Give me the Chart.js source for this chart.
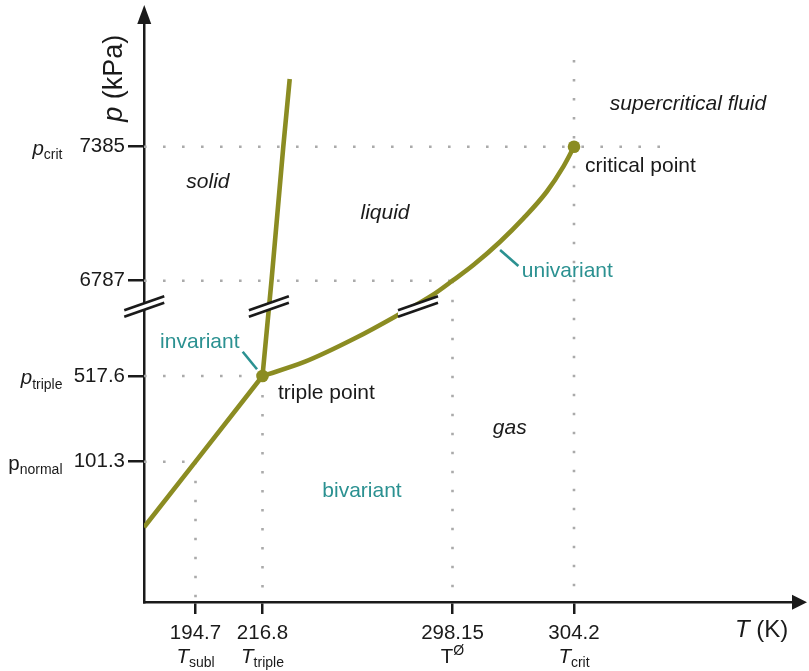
<!DOCTYPE html>
<html>
<head>
<meta charset="utf-8">
<script src="https://cdn.jsdelivr.net/npm/chart.js@4.4.1/dist/chart.umd.min.js"></script>
<style>
  html, body { margin: 0; padding: 0; background: #ffffff; }
  #wrap { width: 809px; height: 671px; }
</style>
</head>
<body>
<div id="wrap"><canvas id="phase" width="809" height="671"></canvas></div>
<script>
// ---- Axis ticks (temperature in K, pressure in kPa) ----
const tempTicks = [194.7, 216.8, 298.15, 304.2];
const tempTickLabels = ['194.7', '216.8', '298.15', '304.2'];
const pressureTicks = [101.3, 517.6, 6787, 7385];
const pressureTickLabels = ['101.3', '517.6', '6787', '7385'];

// symbol written under / beside each tick
const tempSymbols = [
  { base: 'T', sub: 'subl', italic: true },
  { base: 'T', sub: 'triple', italic: true },
  { base: 'T', sup: '\u00D8', italic: false },
  { base: 'T', sub: 'crit', italic: true }
];
const pressureSymbols = [
  { base: 'p', sub: 'normal', italic: false },
  { base: 'p', sub: 'triple', italic: true },
  null,
  { base: 'p', sub: 'crit', italic: true }
];

// ---- Phase boundaries ----
const sublimationT = [177.7, 194.7, 216.8];
const sublimationP = [54, 101.3, 517.6];

const meltingT = [216.8, 220.65, 225.7, 228.45];
const meltingP = [517.6, 6787, 7385, 7699];

const boilingT = [216.8, 235.0, 256.4, 273.5, 290.7, 298.15, 299.19, 300.52, 301.68, 302.84, 303.67, 304.2];
const boilingP = [517.6, 1458, 2998, 4419, 5958, 6787, 6857, 6961, 7065, 7184, 7296, 7385];

const triplePoint = { T: 216.8, p: 517.6 };
const criticalPoint = { T: 304.2, p: 7385 };

// guide lines running on past the critical point
const critGuideEndT = 308.5;
const critGuideEndP = 7787;

// where the broken axes are cut
const breakPressure = 5090;
const breakTemps = [219.53, 283.38];

// ---- Broken (piecewise linear) axis layout: [value, fraction of axis length] ----
const axisMinT = 177.7, axisMaxT = 315.4;
const axisMinP = 0, axisMaxP = 8000;
const SCALE_KNOTS = {
  x: [[axisMinT, 0], [194.7, 0.07875], [216.8, 0.18119], [298.15, 0.47171], [304.2, 0.65749], [axisMaxT, 1]],
  y: [[axisMinP, 0], [101.3, 0.23861], [517.6, 0.38435], [6787, 0.54643], [7385, 0.77432], [axisMaxP, 1]]
};

class BrokenLinearScale extends Chart.LinearScale {
  toDecimal(v) {
    const k = SCALE_KNOTS[this.id];
    let i = 1;
    while (i < k.length - 1 && v > k[i][0]) i++;
    const [v0, f0] = k[i - 1], [v1, f1] = k[i];
    return f0 + (v - v0) / (v1 - v0) * (f1 - f0);
  }
  fromDecimal(f) {
    const k = SCALE_KNOTS[this.id];
    let i = 1;
    while (i < k.length - 1 && f > k[i][1]) i++;
    const [v0, f0] = k[i - 1], [v1, f1] = k[i];
    return v0 + (f - f0) / (f1 - f0) * (v1 - v0);
  }
  getPixelForValue(value) {
    if (value === null || value === undefined || Number.isNaN(+value)) return NaN;
    return this.getPixelForDecimal(this.toDecimal(+value));
  }
  getValueForPixel(pixel) {
    return this.fromDecimal(this.getDecimalForPixel(pixel));
  }
}
BrokenLinearScale.id = 'brokenLinear';
BrokenLinearScale.defaults = Chart.LinearScale.defaults;
Chart.register(BrokenLinearScale);

// ---- Styles ----
const FAM = "'Liberation Sans', Arial, Helvetica, sans-serif";
const INK = '#1a1a1a';
const OLIVE = '#8b8c22';
const GUIDE = '#aaaaaa';
const TEAL = '#2b9191';

Chart.defaults.font.family = FAM;
Chart.defaults.color = INK;

const pts = (xs, ys) => xs.map((x, i) => ({ x: x, y: ys[i] }));

const guideStyle = {
  borderColor: GUIDE, borderWidth: 2.6, borderDash: [2.6, 16.4],
  pointRadius: 0, tension: 0, order: 3, borderCapStyle: 'butt'
};
const guideSets = [];
pressureTicks.forEach((p, i) => {
  const t = tempTicks[i];
  guideSets.push({ ...guideStyle, data: [{ x: axisMinT, y: p }, { x: t, y: p }] });
  guideSets.push({ ...guideStyle, data: [{ x: t, y: p }, { x: t, y: axisMinP }] });
});
guideSets.push({ ...guideStyle, data: [{ x: critGuideEndT, y: criticalPoint.p }, { x: criticalPoint.T, y: criticalPoint.p }] });
guideSets.push({ ...guideStyle, data: [{ x: criticalPoint.T, y: critGuideEndP }, { x: criticalPoint.T, y: criticalPoint.p }] });

const curveStyle = { borderColor: OLIVE, borderWidth: 4.6, pointRadius: 0, order: 2, borderCapStyle: 'butt' };

const datasets = [
  ...guideSets,
  { ...curveStyle, data: pts(sublimationT, sublimationP), tension: 0 },
  { ...curveStyle, data: pts(meltingT, meltingP), tension: 0 },
  { ...curveStyle, data: pts(boilingT, boilingP), cubicInterpolationMode: 'monotone' },
  {
    data: [{ x: triplePoint.T, y: triplePoint.p }, { x: criticalPoint.T, y: criticalPoint.p }],
    showLine: false, pointRadius: 6.3, pointBackgroundColor: OLIVE, pointBorderWidth: 0, order: 1
  }
];

// ---- Drawing helpers ----
function drawRuns(ctx, parts, x, y, align) {
  let total = 0;
  const widths = parts.map(p => { ctx.font = p.font; const w = ctx.measureText(p.text).width; total += w; return w; });
  let cx = align === 'right' ? x - total : align === 'center' ? x - total / 2 : x;
  ctx.textAlign = 'left';
  ctx.textBaseline = 'alphabetic';
  parts.forEach((p, i) => {
    ctx.font = p.font;
    ctx.fillStyle = p.color || INK;
    ctx.fillText(p.text, cx, y + (p.dy || 0));
    cx += widths[i];
  });
}

function symbolParts(s, size, subSize) {
  const parts = [{ text: s.base, font: (s.italic ? 'italic ' : '') + size + 'px ' + FAM }];
  if (s.sub) parts.push({ text: s.sub, font: subSize + 'px ' + FAM, dy: 4.5 });
  if (s.sup) parts.push({ text: s.sup, font: subSize + 'px ' + FAM, dy: -8 });
  return parts;
}

function drawBreak(ctx, cx, cy) {
  const hw = 20, rise = 7, gap = 3.2;
  ctx.save();
  ctx.fillStyle = '#ffffff';
  ctx.beginPath();
  ctx.moveTo(cx - hw, cy + rise - gap);
  ctx.lineTo(cx + hw, cy - rise - gap);
  ctx.lineTo(cx + hw, cy - rise + gap);
  ctx.lineTo(cx - hw, cy + rise + gap);
  ctx.closePath();
  ctx.fill();
  ctx.strokeStyle = INK;
  ctx.lineWidth = 2.7;
  [-gap, gap].forEach(s => {
    ctx.beginPath();
    ctx.moveTo(cx - hw, cy + rise + s);
    ctx.lineTo(cx + hw, cy - rise + s);
    ctx.stroke();
  });
  ctx.restore();
}

function leader(ctx, x1, y1, x2, y2) {
  ctx.save();
  ctx.strokeStyle = TEAL;
  ctx.lineWidth = 2.6;
  ctx.beginPath();
  ctx.moveTo(x1, y1);
  ctx.lineTo(x2, y2);
  ctx.stroke();
  ctx.restore();
}

const decorations = {
  id: 'phaseDecorations',
  afterDatasetsDraw(chart) {
    const { ctx, chartArea: a } = chart;
    const x = chart.scales.x, y = chart.scales.y;

    // axis arrow heads
    ctx.save();
    ctx.fillStyle = INK;
    const ax = x.getPixelForValue(axisMinT) + 0.25;
    ctx.beginPath();
    ctx.moveTo(ax, a.top - 9);
    ctx.lineTo(ax + 7, a.top + 10);
    ctx.lineTo(ax - 7, a.top + 10);
    ctx.closePath();
    ctx.fill();
    const ay = y.getPixelForValue(axisMinP) + 0.25;
    ctx.beginPath();
    ctx.moveTo(a.right + 9, ay);
    ctx.lineTo(a.right - 6, ay - 7.5);
    ctx.lineTo(a.right - 6, ay + 7.5);
    ctx.closePath();
    ctx.fill();
    ctx.restore();

    // axis breaks
    const by = y.getPixelForValue(breakPressure);
    drawBreak(ctx, ax, by);
    breakTemps.forEach(t => drawBreak(ctx, x.getPixelForValue(t), by));

    // tick symbols
    tempTicks.forEach((t, i) => {
      drawRuns(ctx, symbolParts(tempSymbols[i], 20.5, 14), x.getPixelForValue(t), 662.5, 'center');
    });
    pressureTicks.forEach((p, i) => {
      if (!pressureSymbols[i]) return;
      drawRuns(ctx, symbolParts(pressureSymbols[i], 20.5, 14), 62.5, y.getPixelForValue(p) + 8, 'right');
    });

    // axis titles
    drawRuns(ctx, [
      { text: 'T', font: 'italic 24px ' + FAM },
      { text: ' (K)', font: '24px ' + FAM }
    ], 735, 637, 'left');
    ctx.save();
    ctx.translate(122, 121.7);
    ctx.rotate(-Math.PI / 2);
    drawRuns(ctx, [
      { text: 'p', font: 'italic 27px ' + FAM },
      { text: ' (kPa)', font: '27px ' + FAM }
    ], 0, 0, 'left');
    ctx.restore();

    // phase regions
    const it = 'italic 21px ' + FAM;
    const rg = '21px ' + FAM;
    const region = (txt, t, p, font, color) =>
      drawRuns(ctx, [{ text: txt, font: font, color: color }], x.getPixelForValue(t), y.getPixelForValue(p), 'center');
    region('solid', 198.8, 7201, it);
    region('liquid', 269.25, 7062, it);
    region('gas', 301.0, 235.9, it);
    region('supercritical fluid', 309.9, 7555, it);
    region('bivariant', 259.4, 75.8, rg, TEAL);

    // named points
    const tx = x.getPixelForValue(triplePoint.T), ty = y.getPixelForValue(triplePoint.p);
    const cx = x.getPixelForValue(criticalPoint.T), cy = y.getPixelForValue(criticalPoint.p);
    drawRuns(ctx, [{ text: 'triple point', font: rg }], tx + 15.5, ty + 23, 'left');
    drawRuns(ctx, [{ text: 'critical point', font: rg }], cx + 11, cy + 25, 'left');

    leader(ctx, tx - 5.5, ty - 6.7, tx - 19.8, ty - 24.3);
    drawRuns(ctx, [{ text: 'invariant', font: rg, color: TEAL }], tx - 23, ty - 27.7, 'right');

    const ux = x.getPixelForValue(300.52), uy = y.getPixelForValue(6961);
    leader(ctx, ux, uy + 8.3, ux + 18.3, uy + 24.3);
    drawRuns(ctx, [{ text: 'univariant', font: rg, color: TEAL }], ux + 21.7, uy + 35, 'left');
  }
};

new Chart(document.getElementById('phase'), {
  type: 'line',
  data: { datasets: datasets },
  options: {
    responsive: false,
    animation: false,
    events: [],
    layout: { padding: { top: 14, right: 11, left: 0, bottom: 0 } },
    plugins: { legend: { display: false }, tooltip: { enabled: false } },
    scales: {
      x: {
        type: 'brokenLinear',
        min: axisMinT, max: axisMaxT,
        afterBuildTicks: s => { s.ticks = tempTicks.map(v => ({ value: v })); },
        afterFit: s => { s.height = 69; s.paddingLeft = 0; s.paddingRight = 0; },
        grid: { display: true, drawOnChartArea: false, drawTicks: true, tickLength: 12, color: INK, lineWidth: 2.5 },
        border: { display: true, color: INK, width: 2.5 },
        ticks: {
          autoSkip: false, maxRotation: 0, minRotation: 0, padding: 7, color: INK,
          font: { size: 20.5, family: FAM },
          callback: v => tempTickLabels[tempTicks.indexOf(v)]
        }
      },
      y: {
        type: 'brokenLinear',
        min: axisMinP, max: axisMaxP,
        afterBuildTicks: s => { s.ticks = pressureTicks.map(v => ({ value: v })); },
        afterFit: s => { s.width = 144; s.paddingTop = 0; s.paddingBottom = 0; },
        grid: { display: true, drawOnChartArea: false, drawTicks: true, tickLength: 16, color: INK, lineWidth: 2.5 },
        border: { display: true, color: INK, width: 2.5 },
        ticks: {
          autoSkip: false, padding: 3, color: INK,
          font: { size: 20.5, family: FAM },
          callback: v => pressureTickLabels[pressureTicks.indexOf(v)]
        }
      }
    }
  },
  plugins: [decorations]
});
</script>
</body>
</html>
